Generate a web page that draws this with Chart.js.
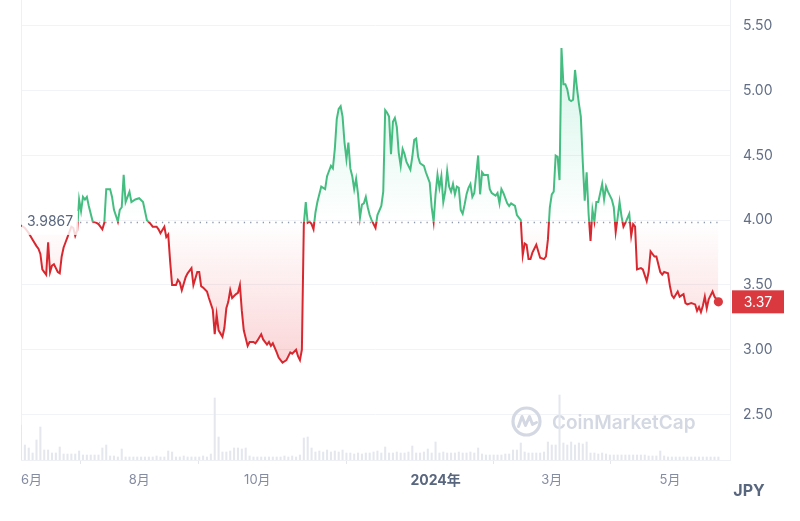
<!DOCTYPE html>
<html lang="ja">
<head>
<meta charset="utf-8">
<title>JPY 価格チャート</title>
<script src="https://cdn.jsdelivr.net/npm/chart.js@4.4.1/dist/chart.umd.min.js"></script>
<style>
  html, body { margin: 0; padding: 0; background: #fff; }
  #wrap { width: 800px; height: 521px; }
</style>
</head>
<body>
<div id="wrap"><canvas id="priceChart" width="800" height="521"></canvas></div>
<script>
// day offsets from 2023-06-01
const days = [
  0, 2, 4, 6, 8, 9, 10, 11, 12, 13, 14, 15, 16, 17, 18, 19, 20, 21, 22, 23, 24, 26, 27, 28, 29,
  30, 31, 32, 33, 34, 35, 37, 39, 40, 42, 43, 44, 46, 47, 48, 50, 51, 52, 53, 54, 55, 56, 57, 59,
  61, 63, 65, 67, 68, 70, 71, 72, 74, 75, 76, 77, 78, 80, 81, 82, 83, 85, 86, 88, 89, 91, 92, 93,
  94, 96, 97, 99, 100, 101, 102, 104, 105, 106, 107, 108, 109, 111, 112, 113, 114, 115, 117, 118,
  120, 121, 122, 124, 125, 127, 128, 129, 130, 132, 133, 135, 137, 139, 140, 142, 143, 144, 145,
  146, 147, 148, 149, 150, 151, 152, 153, 154, 155, 156, 157, 158, 159, 160, 161, 162, 163, 164,
  165, 166, 167, 168, 169, 170, 171, 172, 173, 174, 175, 176, 177, 178, 179, 180, 181, 183, 184,
  186, 187, 188, 189, 190, 191, 192, 193, 194, 195, 196, 197, 198, 199, 201, 202, 203, 204, 205,
  206, 208, 209, 211, 212, 213, 214, 215, 216, 217, 218, 219, 220, 221, 222, 223, 224, 225, 226,
  227, 228, 229, 230, 231, 232, 233, 234, 236, 237, 238, 239, 241, 242, 243, 245, 246, 247, 248,
  249, 251, 252, 253, 255, 256, 258, 259, 260, 261, 262, 263, 264, 266, 267, 268, 270, 271, 272,
  273, 274, 275, 276, 277, 278, 279, 280, 281, 282, 283, 284, 285, 286, 287, 288, 289, 290, 291,
  292, 293, 294, 295, 296, 297, 298, 300, 301, 302, 303, 305, 306, 307, 308, 309, 310, 311, 312,
  314, 315, 316, 317, 318, 320, 321, 323, 324, 325, 327, 328, 330, 331, 332, 334, 335, 336, 337,
  339, 340, 342, 343, 344, 346, 348, 349, 350, 351, 352, 353, 354, 355, 357, 358, 360
];
const prices = [
  3.96, 3.94, 3.90, 3.85, 3.80, 3.78, 3.74, 3.62, 3.60, 3.58, 3.83, 3.60, 3.65, 3.66, 3.63, 3.60, 3.59, 3.72, 3.79, 3.83, 3.87, 3.95, 3.94, 3.88, 3.92,
  4.16, 4.07, 4.18, 4.16, 4.18, 4.11, 3.99, 3.98, 3.97, 3.93, 3.98, 4.24, 4.24, 4.18, 4.08, 3.99, 4.08, 4.10, 4.35, 4.14, 4.18, 4.22, 4.14, 4.16,
  4.17, 4.14, 4.00, 3.97, 3.95, 3.95, 3.93, 3.90, 3.95, 3.87, 3.89, 3.68, 3.50, 3.50, 3.54, 3.52, 3.46, 3.56, 3.59, 3.63, 3.50, 3.60, 3.60, 3.49,
  3.48, 3.45, 3.40, 3.31, 3.12, 3.27, 3.15, 3.10, 3.17, 3.32, 3.37, 3.46, 3.40, 3.43, 3.44, 3.50, 3.30, 3.15, 3.03, 3.06,
  3.06, 3.05, 3.07, 3.12, 3.08, 3.04, 3.06, 3.03, 3.05, 2.98, 2.94, 2.90, 2.92, 2.98, 2.97, 3.00, 2.95, 2.92, 3.00,
  3.97, 4.14, 3.98, 3.99, 3.97, 3.93, 4.06, 4.14, 4.20, 4.26, 4.25, 4.24, 4.34, 4.38, 4.42, 4.40, 4.55, 4.78, 4.86,
  4.88, 4.80, 4.60, 4.47, 4.60, 4.40, 4.34, 4.24, 4.32, 4.20, 4.02, 4.12, 4.13, 4.18, 4.10, 4.04, 4.00, 3.94, 4.04,
  4.11, 4.22, 4.85, 4.83, 4.80, 4.51, 4.76, 4.79, 4.72, 4.52, 4.42, 4.55, 4.51, 4.45, 4.39, 4.49, 4.62, 4.63, 4.49,
  4.44, 4.42, 4.37, 4.29, 4.10, 3.99, 4.20, 4.35, 4.25, 4.34, 4.14, 4.22, 4.38, 4.26, 4.22, 4.28, 4.20, 4.26, 4.25,
  4.08, 4.05, 4.12, 4.20, 4.25, 4.28, 4.18, 4.21, 4.50, 4.20, 4.37, 4.35, 4.35, 4.24, 4.21, 4.19, 4.21, 4.13, 4.24,
  4.21, 4.13, 4.11, 4.13, 4.11, 4.04, 4.00, 3.73, 3.82, 3.81, 3.70, 3.70, 3.75, 3.81, 3.76, 3.71, 3.70, 3.72, 3.85,
  4.10, 4.20, 4.22, 4.50, 4.49, 4.31, 5.33, 5.05, 5.05, 5.01, 4.93, 4.92, 4.93, 5.16, 5.02, 4.90, 4.80, 4.45, 4.15,
  4.37, 4.05, 3.84, 4.08, 3.99, 4.14, 4.14, 4.28, 4.16, 4.26, 4.22, 4.16, 4.10, 3.91, 4.02, 4.14, 4.03, 3.95, 3.98,
  4.05, 3.88, 3.97, 3.95, 3.62, 3.63, 3.62, 3.53, 3.60, 3.76, 3.72, 3.72, 3.60, 3.58, 3.60, 3.59, 3.49, 3.42, 3.40,
  3.45, 3.41, 3.43, 3.36, 3.35, 3.36, 3.35, 3.30, 3.33, 3.29, 3.34, 3.41, 3.32, 3.39, 3.45, 3.41, 3.37
];
// trading volume, one bar every 2 days from 2023-06-01 (relative units)
const volumes = [
  35, 15, 12, 7, 20, 33, 10, 10, 7, 7, 13, 6, 6, 6, 6, 9, 5, 5, 5, 5, 5, 12, 15, 4, 4, 3, 11, 3, 3, 3,
  3, 3, 3, 3, 3, 4, 3, 3, 9, 8, 3, 3, 4, 3, 3, 3, 3, 4, 3, 6, 62, 23, 8, 8, 9, 12, 12, 11, 12, 4,
  3, 3, 3, 3, 3, 3, 3, 3, 4, 3, 4, 3, 5, 22, 23, 12, 8, 9, 8, 10, 8, 9, 8, 10, 7, 7, 6, 7, 6, 7,
  7, 8, 9, 7, 13, 7, 7, 8, 7, 7, 8, 14, 7, 7, 8, 11, 7, 18, 7, 8, 7, 7, 7, 8, 7, 7, 8, 7, 12, 6,
  5, 5, 5, 5, 5, 6, 6, 10, 10, 17, 8, 7, 7, 7, 7, 8, 18, 15, 15, 65, 17, 15, 18, 15, 17, 16, 18, 7, 7, 6,
  7, 6, 5, 5, 5, 5, 5, 5, 5, 5, 5, 5, 4, 4, 4, 9, 4, 3, 3, 3, 3, 3, 3, 3, 3, 3, 3, 3, 3, 3, 3
];
const baseline = 3.9867;
const yTicks = [2.5, 3.0, 3.5, 4.0, 4.5, 5.0, 5.5];
const monthTicks = [0, 61, 122, 214, 274, 335];
const monthLabels = ['6月', '8月', '10月', '2024年', '3月', '5月'];
const yearTick = 214;
const lastDay = 366;
const currency = 'JPY';

const FONT = 'Inter, "Noto Sans CJK JP", sans-serif';
const GREEN = '#45bd80';
const RED = '#d8282f';
const BADGE = '#d9393f';

// vertical gradient with a hard switch at the baseline
function splitGradient(chart, top, aboveBase, belowBase, bottom, fallback) {
  const { ctx, chartArea, scales } = chart;
  if (!chartArea || !scales.y) return fallback;
  const yb = scales.y.getPixelForValue(baseline);
  let stop = (yb - chartArea.top) / (chartArea.bottom - chartArea.top);
  stop = Math.min(Math.max(stop, 0), 1);
  const g = ctx.createLinearGradient(0, chartArea.top, 0, chartArea.bottom);
  g.addColorStop(0, top);
  g.addColorStop(stop, aboveBase);
  g.addColorStop(stop, belowBase);
  g.addColorStop(1, bottom);
  return g;
}

const decorations = {
  id: 'decorations',
  beforeDatasetsDraw(chart) {
    const { ctx, chartArea, scales } = chart;
    ctx.save();
    // left frame line
    ctx.strokeStyle = '#eef0f4';
    ctx.lineWidth = 1;
    ctx.beginPath();
    ctx.moveTo(chartArea.left + 0.5, chartArea.top);
    ctx.lineTo(chartArea.left + 0.5, chartArea.bottom);
    ctx.stroke();

    // watermark
    const wmColor = '#d3d8e2';
    const cx = 526.5, cy = 421.5;
    ctx.strokeStyle = wmColor;
    ctx.lineWidth = 3.2;
    ctx.beginPath();
    ctx.arc(cx, cy, 13.5, 0, Math.PI * 2);
    ctx.stroke();
    ctx.lineJoin = 'round';
    ctx.lineCap = 'round';
    ctx.lineWidth = 3;
    ctx.beginPath();
    ctx.moveTo(cx - 8, cy + 5);
    ctx.lineTo(cx - 4.5, cy - 5);
    ctx.lineTo(cx - 1, cy + 4);
    ctx.lineTo(cx + 3, cy - 5);
    ctx.lineTo(cx + 6, cy + 3);
    ctx.lineTo(cx + 10, cy + 1);
    ctx.stroke();
    ctx.fillStyle = wmColor;
    ctx.font = '600 19px ' + FONT;
    ctx.textBaseline = 'alphabetic';
    ctx.textAlign = 'left';
    ctx.fillText('CoinMarketCap', 552, 429);

    // dotted baseline
    const yb = Math.round(scales.y.getPixelForValue(baseline)) + 0.5;
    const xEnd = scales.x.getPixelForValue(days[days.length - 1]);
    ctx.strokeStyle = 'rgba(88, 102, 126, 0.65)';
    ctx.lineWidth = 1.3;
    ctx.lineCap = 'butt';
    ctx.setLineDash([1.3, 5]);
    ctx.beginPath();
    ctx.moveTo(80, yb);
    ctx.lineTo(xEnd, yb);
    ctx.stroke();
    ctx.restore();
  },
  afterDatasetsDraw(chart) {
    const { ctx, chartArea, scales } = chart;
    const yb = scales.y.getPixelForValue(baseline);
    ctx.save();
    // baseline value label
    ctx.fillStyle = 'rgba(255, 255, 255, 0.82)';
    ctx.fillRect(chartArea.left + 1, yb - 11, 56, 24);
    ctx.fillStyle = '#58667e';
    ctx.font = '14px ' + FONT;
    ctx.textAlign = 'left';
    ctx.textBaseline = 'middle';
    ctx.fillText(baseline.toFixed(4), 27, yb);

    // latest price: dot at the last point and badge on the axis
    const last = prices[prices.length - 1];
    const xl = scales.x.getPixelForValue(days[days.length - 1]);
    const yl = scales.y.getPixelForValue(last);
    ctx.fillStyle = BADGE;
    ctx.beginPath();
    ctx.arc(xl, yl, 4.6, 0, Math.PI * 2);
    ctx.fill();
    ctx.fillRect(chartArea.right + 2, yl - 11.5, 52, 23);
    ctx.fillStyle = '#ffffff';
    ctx.textAlign = 'center';
    ctx.fillText(last.toFixed(2), chartArea.right + 28, yl + 0.5);

    // currency
    ctx.fillStyle = '#58667e';
    ctx.font = 'bold 16px ' + FONT;
    ctx.fillText(currency, 749, 491);
    ctx.restore();
  }
};

const ctx = document.getElementById('priceChart').getContext('2d');
new Chart(ctx, {
  type: 'line',
  data: {
    datasets: [
      {
        type: 'line',
        label: 'Price',
        data: days.map((d, i) => ({ x: d, y: prices[i] })),
        yAxisID: 'y',
        order: 0,
        borderWidth: 2,
        tension: 0,
        borderColor: c => splitGradient(c.chart, GREEN, GREEN, RED, RED, GREEN),
        backgroundColor: c => splitGradient(c.chart,
          'rgba(22, 199, 132, 0.24)', 'rgba(22, 199, 132, 0.0)',
          'rgba(234, 57, 67, 0.0)', 'rgba(234, 57, 67, 0.36)', 'rgba(0,0,0,0)'),
        fill: { target: { value: baseline } },
        pointRadius: 0,
        pointHoverRadius: 0
      },
      {
        type: 'bar',
        label: 'Volume',
        data: volumes.map((v, i) => ({ x: i * 2, y: v })),
        yAxisID: 'y2',
        order: 1,
        backgroundColor: '#e4e7ee',
        barThickness: 1.4
      }
    ]
  },
  options: {
    responsive: false,
    animation: false,
    layout: { padding: { left: 21, top: 0, right: 0, bottom: 0 } },
    plugins: {
      legend: { display: false },
      tooltip: { enabled: false }
    },
    scales: {
      x: {
        type: 'linear',
        min: 0,
        max: lastDay,
        offset: false,
        afterBuildTicks: scale => {
          scale.ticks = monthTicks.concat([lastDay]).map(v => ({ value: v }));
        },
        afterFit: scale => {
          scale.height = 61;
          scale.paddingLeft = 0;
          scale.paddingRight = 0;
        },
        ticks: {
          autoSkip: false,
          maxRotation: 0,
          align: 'inner',
          padding: 8,
          callback: value => {
            const i = monthTicks.indexOf(value);
            return i >= 0 ? monthLabels[i] : '';
          },
          color: c => (c.tick && c.tick.value === yearTick ? '#58667e' : '#858ca2'),
          font: c => (c.tick && c.tick.value === yearTick
            ? { family: FONT, size: 14, weight: 'bold' }
            : { family: FONT, size: 13 })
        },
        grid: {
          drawOnChartArea: false,
          drawTicks: true,
          tickLength: 4,
          color: c => (c.tick && c.tick.value === lastDay ? 'rgba(0,0,0,0)' : '#e3e6ec')
        },
        border: { display: true, color: '#eef0f4' }
      },
      y: {
        position: 'right',
        min: 2.149,
        max: 5.70,
        afterBuildTicks: scale => {
          scale.ticks = yTicks.map(v => ({ value: v }));
        },
        afterFit: scale => {
          scale.width = 70;
          scale.paddingTop = 0;
          scale.paddingBottom = 0;
        },
        ticks: {
          padding: 13,
          color: '#616e85',
          font: { family: FONT, size: 14 },
          callback: value => Number(value).toFixed(2)
        },
        grid: { color: '#f1f3f6', drawTicks: false },
        border: { display: true, color: '#eef0f4' }
      },
      y2: {
        display: false,
        min: 0,
        max: 460
      }
    }
  },
  plugins: [decorations]
});
</script>
</body>
</html>
